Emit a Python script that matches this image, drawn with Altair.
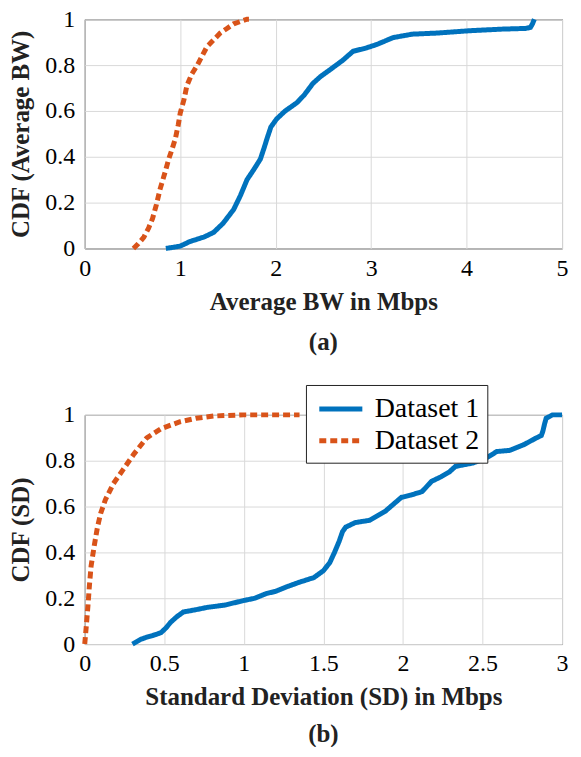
import altair as alt
import pandas as pd

# ---- data ----
series_names = ["Dataset 1", "Dataset 2"]
series_colors = ["#0072BD", "#D95319"]

a_d1_x = [0.85, 1.0, 1.1, 1.25, 1.35, 1.45, 1.56, 1.63, 1.70, 1.78, 1.84, 1.88, 1.91, 1.95, 2.01, 2.1,
          2.22, 2.30, 2.39, 2.47, 2.57, 2.7, 2.81, 2.95, 3.06, 3.23, 3.43, 3.7, 4.03, 4.37, 4.62, 4.67, 4.69, 4.71]
a_d1_y = [0, 0.01, 0.03, 0.05, 0.07, 0.11, 0.17, 0.23, 0.30, 0.35, 0.39, 0.44, 0.48, 0.53, 0.565, 0.60,
          0.635, 0.67, 0.72, 0.75, 0.78, 0.82, 0.86, 0.875, 0.89, 0.92, 0.935, 0.94, 0.95, 0.957, 0.96, 0.965, 0.98, 1.0]

a_d2_x = [0.51, 0.56, 0.62, 0.67, 0.71, 0.75, 0.79, 0.84, 0.88, 0.92, 0.95, 0.98, 1.0, 1.04, 1.07, 1.12,
          1.18, 1.23, 1.28, 1.35, 1.42, 1.49, 1.56, 1.63, 1.70, 1.72]
a_d2_y = [0, 0.02, 0.05, 0.09, 0.13, 0.19, 0.26, 0.33, 0.39, 0.44, 0.48, 0.54, 0.59, 0.65, 0.71, 0.76,
          0.80, 0.84, 0.88, 0.91, 0.94, 0.96, 0.98, 0.99, 1.0, 1.0]

b_d1_x = [0.30, 0.35, 0.39, 0.44, 0.48, 0.51, 0.54, 0.58, 0.62, 0.70, 0.77, 0.88, 1.0, 1.07, 1.14, 1.20,
          1.27, 1.35, 1.44, 1.50, 1.54, 1.57, 1.60, 1.62, 1.64, 1.70, 1.79, 1.89, 1.99, 2.05, 2.12, 2.18,
          2.24, 2.29, 2.33, 2.44, 2.52, 2.59, 2.67, 2.76, 2.84, 2.87, 2.88, 2.89, 2.90, 2.94, 3.0]
b_d1_y = [0, 0.02, 0.03, 0.04, 0.05, 0.07, 0.095, 0.12, 0.14, 0.15, 0.16, 0.17, 0.19, 0.20, 0.22, 0.23,
          0.25, 0.27, 0.29, 0.32, 0.355, 0.40, 0.45, 0.49, 0.51, 0.53, 0.54, 0.58, 0.64, 0.65, 0.665, 0.71,
          0.73, 0.75, 0.775, 0.79, 0.81, 0.84, 0.845, 0.87, 0.90, 0.91, 0.93, 0.96, 0.985, 1.0, 1.0]

b_d2_x = [0.0, 0.01, 0.02, 0.03, 0.04, 0.06, 0.08, 0.10, 0.13, 0.18, 0.24, 0.31, 0.39, 0.48, 0.60,
          0.70, 0.81, 1.0, 1.23, 1.35]
b_d2_y = [0, 0.08, 0.165, 0.26, 0.34, 0.43, 0.51, 0.57, 0.63, 0.70, 0.76, 0.83, 0.90, 0.94, 0.97,
          0.985, 0.995, 1.0, 1.0, 1.0]

a_x_ticks = [0, 1, 2, 3, 4, 5]
b_x_ticks = [0, 0.5, 1, 1.5, 2, 2.5, 3]
y_ticks = [0, 0.2, 0.4, 0.6, 0.8, 1]


def frame(xs1, ys1, xs2, ys2):
    rows = []
    for i, (x, y) in enumerate(zip(xs1, ys1)):
        rows.append({"x": x, "y": y, "series": series_names[0], "i": i})
    for i, (x, y) in enumerate(zip(xs2, ys2)):
        rows.append({"x": x, "y": y, "series": series_names[1], "i": i})
    return pd.DataFrame(rows)


FONT = "Liberation Serif"
LFS = 24   # tick labels
TFS = 25   # titles
W, H = 479, 230


def panel(df, xdom, xticks, xtitle, ytitle, caption, cap_offset, legend):
    color_scale = alt.Scale(domain=series_names, range=series_colors)
    dash_scale = alt.Scale(domain=series_names, range=[[1, 0], [7, 4]])
    if legend:
        leg = alt.Legend(
            title=None, orient="none", legendX=222, legendY=-30,
            symbolType="M-1.6,0H1.6", symbolStrokeWidth=5, symbolSize=729,
            labelFont=FONT, labelFontSize=28, labelColor="black",
            strokeColor="#222222", fillColor="white", padding=8,
            rowPadding=2, labelOffset=18, symbolOffset=11,
        )
    else:
        leg = None
    return alt.Chart(df).mark_line(strokeWidth=5, strokeCap="butt").encode(
        x=alt.X("x:Q", scale=alt.Scale(domain=xdom, nice=False, zero=False),
                axis=alt.Axis(values=xticks, title=xtitle, grid=True, ticks=False,
                              labelPadding=8, titlePadding=9, labelFlush=False,
                              labelExpr="datum.value")),
        y=alt.Y("y:Q", scale=alt.Scale(domain=[0, 1], nice=False),
                axis=alt.Axis(values=y_ticks, title=ytitle, grid=True, ticks=False,
                              labelPadding=10, titlePadding=11, labelFlush=False,
                              labelExpr="datum.value")),
        color=alt.Color("series:N", scale=color_scale, legend=leg),
        strokeDash=alt.StrokeDash("series:N", scale=dash_scale, legend=leg),
        order="i:Q",
    ).properties(
        width=W, height=H,
        title=alt.TitleParams(caption, orient="bottom", font=FONT, fontSize=TFS,
                              fontWeight="bold", color="#222222", offset=cap_offset),
    )


top = panel(frame(a_d1_x, a_d1_y, a_d2_x, a_d2_y), [0, 5], a_x_ticks,
            "Average BW in Mbps", "CDF (Average BW)", "(a)", 16, False)
bottom = panel(frame(b_d1_x, b_d1_y, b_d2_x, b_d2_y), [0, 3], b_x_ticks,
               "Standard Deviation (SD) in Mbps", "CDF (SD)", "(b)", 12, True)

chart = alt.vconcat(top, bottom, spacing=28).resolve_scale(
    color="independent", strokeDash="independent"
).properties(
    padding={"left": 0, "top": -3, "right": 0, "bottom": -2}
).configure_view(
    stroke="#262626", strokeWidth=1
).configure_axis(
    labelFont=FONT, labelFontSize=LFS, labelColor="black", labelFontWeight="normal",
    titleFont=FONT, titleFontSize=TFS, titleFontWeight="bold", titleColor="#222222",
    gridColor="#d9d9d9", gridWidth=1, domain=False,
)

chart.save("out.html", embed_options={"renderer": "svg", "actions": False})
